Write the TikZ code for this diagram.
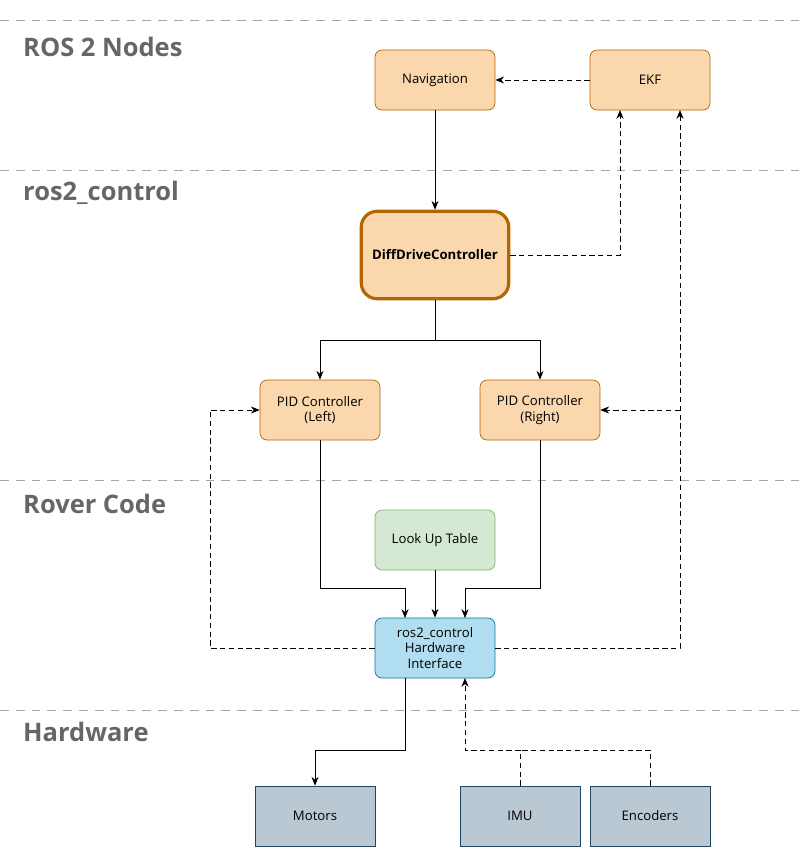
\documentclass[tikz,border=0pt]{standalone}
\usepackage{fontspec}
\setmainfont{Open Sans}
\usetikzlibrary{arrows.meta}
\definecolor{orfill}{HTML}{FAD7AC}
\definecolor{ordraw}{HTML}{B46504}
\definecolor{grfill}{HTML}{D5E8D4}
\definecolor{grdraw}{HTML}{82B366}
\definecolor{blfill}{HTML}{B1DDF0}
\definecolor{bldraw}{HTML}{10739E}
\definecolor{hwfill}{HTML}{BAC8D3}
\definecolor{hwdraw}{HTML}{23445D}
\definecolor{laycol}{HTML}{666666}
\tikzset{
    box/.style={rectangle, rounded corners=4pt, draw, align=center, font=\fontsize{7.5}{9}\selectfont, minimum width=2.4cm, minimum height=1.2cm, inner sep=1pt},
    ornode/.style={box, fill=orfill, draw=ordraw},
    layer/.style={anchor=west, font=\fontsize{14.5}{18}\selectfont\bfseries, text=laycol},
    sep/.style={draw=black!35, dashed, dash pattern=on 5pt off 4pt},
    conn/.style={-{Stealth[length=5pt,width=4pt]}, thin},
    dconn/.style={conn, densely dashed}
}
\begin{document}
\begin{tikzpicture}[x=0.02cm, y=-0.02cm]
    \useasboundingbox (0,0) rectangle (803,867);

    % layers
    \foreach \yy in {20,170,480,710} \draw[sep] (0,\yy) -- (803,\yy);
    \node[layer] (l1) at (17,47) {ROS 2 Nodes};
    \node[layer] (l2) at (17,193) {ros2\_control};
    \node[layer] (l3) at (17,504) {Rover Code};
    \node[layer] (l4) at (17,732) {Hardware};

    % nodes
    \node[ornode] (nav) at (435,80) {Navigation};
    \node[ornode] (ekf) at (650,80) {EKF};
    \node[ornode, line width=1.8pt, rounded corners=9pt, minimum width=2.95cm, minimum height=1.75cm, font=\fontsize{7.5}{9}\selectfont\bfseries] (ddc) at (435,255) {DiffDriveController};
    \node[ornode] (pidl) at (320,410) {PID Controller\\(Left)};
    \node[ornode] (pidr) at (540,410) {PID Controller\\(Right)};
    \node[box, fill=grfill, draw=grdraw] (lut) at (435,540) {Look Up Table};
    \node[box, fill=blfill, draw=bldraw] (hwi) at (435,648) {ros2\_control\\Hardware\\Interface};
    \node[box, rounded corners=0pt, fill=hwfill, draw=hwdraw] (mot) at (315,816) {Motors};
    \node[box, rounded corners=0pt, fill=hwfill, draw=hwdraw] (imu) at (520,816) {IMU};
    \node[box, rounded corners=0pt, fill=hwfill, draw=hwdraw] (enc) at (650,816) {Encoders};

    \coordinate (split) at (435,340);
    \coordinate (odom) at (680,410);

    % connectors
    \draw[conn] (nav.south) -- (ddc.north);
    \draw[dconn] (ekf.west) -- (nav.east);
    \draw[dconn] (ddc.east) -| (620,110);
    \draw (ddc.south) -- (split);
    \draw[conn] (split) -| (pidl.north);
    \draw[conn] (split) -| (pidr.north);
    \draw[conn] (pidl.south) |- (405,588) -- (405,618);
    \draw[conn] (pidr.south) |- (465,588) -- (465,618);
    \draw[conn] (lut.south) -- (hwi.north);
    \draw[dconn] (hwi.west) -| (210,410) -- (pidl.west);
    \draw[dconn] (hwi.east) -| (680,110);
    \draw[dconn] (odom) -- (pidr.east);
    \draw[conn] (405,678) |- (315,750) -- (mot.north);
    \draw[dconn] (imu.north) |- (465,750) -- (465,678);
    \draw[densely dashed] (enc.north) |- (520,750);
\end{tikzpicture}
\end{document}
